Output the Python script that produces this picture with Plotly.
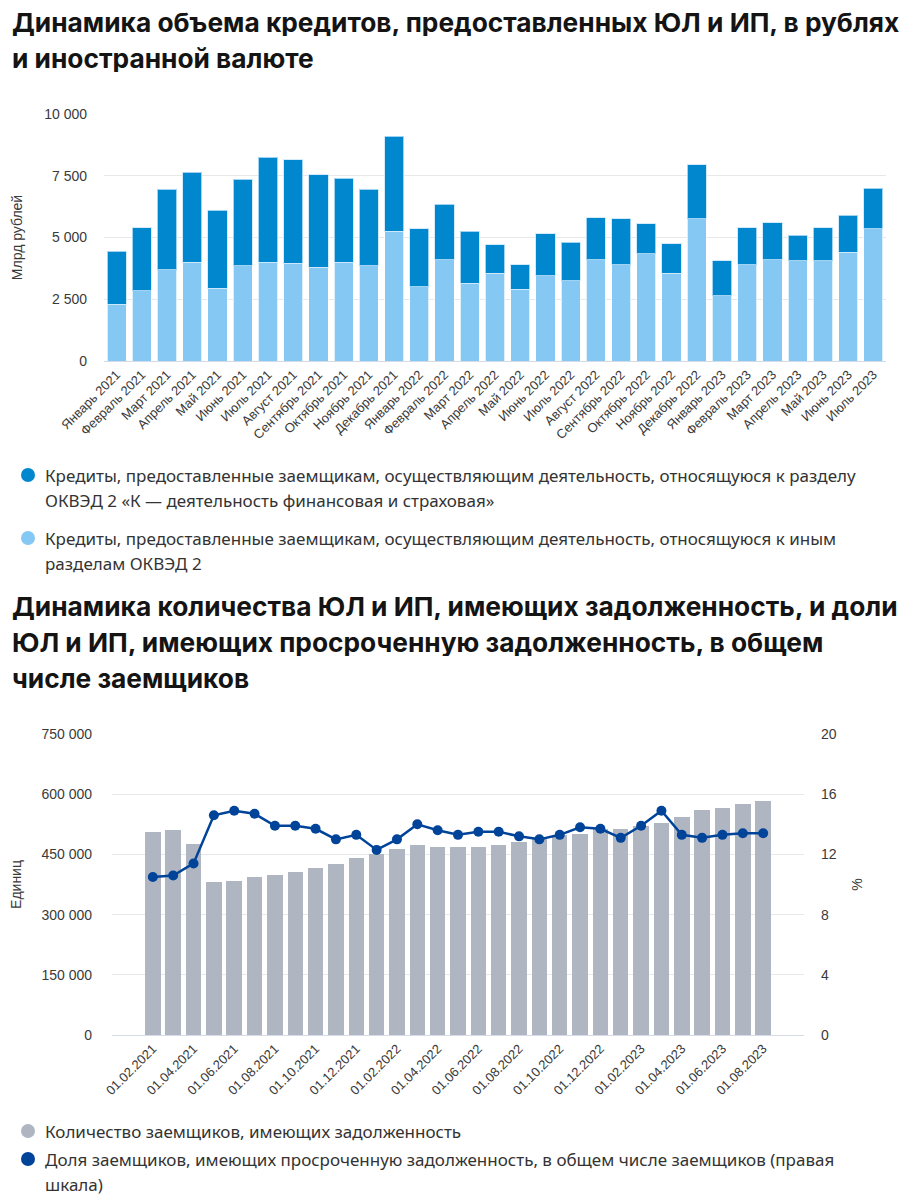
import plotly.graph_objects as go

# ---------- Data: chart 1 ----------
months1 = ["Январь 2021", "Февраль 2021", "Март 2021", "Апрель 2021", "Май 2021", "Июнь 2021",
           "Июль 2021", "Август 2021", "Сентябрь 2021", "Октябрь 2021", "Ноябрь 2021", "Декабрь 2021",
           "Январь 2022", "Февраль 2022", "Март 2022", "Апрель 2022", "Май 2022", "Июнь 2022",
           "Июль 2022", "Август 2022", "Сентябрь 2022", "Октябрь 2022", "Ноябрь 2022", "Декабрь 2022",
           "Январь 2023", "Февраль 2023", "Март 2023", "Апрель 2023", "Май 2023", "Июнь 2023", "Июль 2023"]
total1 = [4450, 5400, 6950, 7650, 6100, 7350, 8250, 8150, 7550, 7400, 6950, 9100,
          5350, 6350, 5250, 4700, 3900, 5150, 4800, 5800, 5750, 5550, 4750, 7950,
          4050, 5400, 5600, 5100, 5400, 5900, 7000]
other1 = [2300, 2850, 3700, 4000, 2950, 3850, 4000, 3950, 3800, 4000, 3850, 5250,
          3000, 4100, 3150, 3550, 2900, 3450, 3250, 4100, 3900, 4350, 3550, 5750,
          2650, 3900, 4100, 4050, 4050, 4400, 5350]
fin1 = [t - o for t, o in zip(total1, other1)]

# ---------- Data: chart 2 ----------
dates2 = ["01.02.2021", "01.03.2021", "01.04.2021", "01.05.2021", "01.06.2021", "01.07.2021",
          "01.08.2021", "01.09.2021", "01.10.2021", "01.11.2021", "01.12.2021", "01.01.2022",
          "01.02.2022", "01.03.2022", "01.04.2022", "01.05.2022", "01.06.2022", "01.07.2022",
          "01.08.2022", "01.09.2022", "01.10.2022", "01.11.2022", "01.12.2022", "01.01.2023",
          "01.02.2023", "01.03.2023", "01.04.2023", "01.05.2023", "01.06.2023", "01.07.2023",
          "01.08.2023"]
borrowers2 = [505000, 511000, 475000, 381000, 384000, 393000, 398000, 405000, 417000, 426000,
              441000, 450000, 463000, 474000, 468000, 468000, 468000, 474000, 480000, 489000,
              498000, 502000, 513000, 514000, 520000, 528000, 544000, 560000, 566000, 575000,
              584000]
overdue_share2 = [10.5, 10.6, 11.4, 14.6, 14.9, 14.7, 13.9, 13.9, 13.7, 13.0, 13.3, 12.3,
                  13.0, 14.0, 13.6, 13.3, 13.5, 13.5, 13.2, 13.0, 13.3, 13.8, 13.7, 13.1,
                  13.9, 14.9, 13.3, 13.1, 13.3, 13.4, 13.4]
date_ticks2 = dates2[::2]

y1_ticks = [0, 2500, 5000, 7500, 10000]
y2_ticks = [0, 150000, 300000, 450000, 600000, 750000]
y3_ticks = [0, 4, 8, 12, 16, 20]

# ---------- Styles ----------
C_FIN = "#0087CD"
C_OTH = "#85C8F4"
C_GRAY = "#B0B6C1"
C_LINE = "#00449A"
AX_FAMILY = "Liberation Sans, Arial, sans-serif"
TICK_FONT = dict(family=AX_FAMILY, size=14, color="#3a3a3a")
XTICK_FONT = dict(family=AX_FAMILY, size=13, color="#3a3a3a")
AXT_FONT = dict(family=AX_FAMILY, size=14, color="#3a3a3a")
TITLE_FONT = dict(family="Inter, sans-serif", size=26.3, color="#141414")
LEG_FONT = dict(family="Noto Sans, sans-serif", size=17, color="#333333")

# the page body adds an 8px offset; the figure is sized to fit the window
OFF = 8
W, H = 908 - OFF, 1200 - OFF

def px(xp):
    return (xp - OFF) / W

def py(yp):
    return 1 - (yp - OFF) / H

fig = go.Figure()

fig.add_trace(go.Bar(x=months1, y=other1, marker=dict(color=C_OTH, line=dict(color="rgba(255,255,255,0.7)", width=1)),
                     xaxis="x", yaxis="y", name="other", showlegend=False))
fig.add_trace(go.Bar(x=months1, y=fin1, marker=dict(color=C_FIN, line=dict(color="rgba(200,230,250,0.8)", width=1)),
                     xaxis="x", yaxis="y", name="fin", showlegend=False))

fig.add_trace(go.Bar(x=dates2, y=borrowers2, marker=dict(color=C_GRAY, line=dict(width=0)),
                     xaxis="x2", yaxis="y2", showlegend=False))
fig.add_trace(go.Scatter(x=dates2, y=overdue_share2, mode="lines+markers",
                         line=dict(color=C_LINE, width=2.5), marker=dict(color=C_LINE, size=10),
                         xaxis="x2", yaxis="y3", showlegend=False))

grid = "#E8E8EA"
base = "#D5DCE8"

fig.update_layout(
    width=W, height=H,
    margin=dict(l=0, r=0, t=0, b=0, autoexpand=False),
    paper_bgcolor="white", plot_bgcolor="white",
    barmode="stack", bargap=0.24,
    separators=", ",
    xaxis=dict(domain=[px(104), px(886)], type="category", tickangle=-45, tickfont=XTICK_FONT,
               showgrid=False, showline=True, linecolor=base, linewidth=1, ticks="", anchor="y",
               automargin=False),
    yaxis=dict(domain=[py(361), py(114)], range=[0, 10000], tickvals=y1_ticks, tickformat=",d",
               tickfont=TICK_FONT, gridcolor=grid, zeroline=False, anchor="x", ticklabelstandoff=16,
               automargin=False,
               title=dict(text="Млрд рублей", font=AXT_FONT, standoff=18)),
    xaxis2=dict(domain=[px(112), px(804)], type="category", tickangle=-45, tickvals=date_ticks2,
                tickfont=XTICK_FONT, automargin=False,
                showgrid=False, showline=True, linecolor=base, linewidth=1, ticks="", anchor="y2"),
    yaxis2=dict(domain=[py(1035), py(734)], range=[0, 750000], tickvals=y2_ticks, tickformat=",d",
                tickfont=TICK_FONT, gridcolor=grid, zeroline=False, anchor="x2", ticklabelstandoff=19,
                automargin=False,
                title=dict(text="Единиц", font=AXT_FONT, standoff=16)),
    yaxis3=dict(domain=[py(1035), py(734)], range=[0, 20], tickvals=y3_ticks, overlaying="y2", side="right",
                tickfont=TICK_FONT, showgrid=False, zeroline=False, anchor="x2", ticklabelstandoff=16,
                automargin=False,
                title=dict(text="%", font=AXT_FONT, standoff=16)),
)

annotations = []
def text_line(s, x, y, font, height=None):
    a = dict(text=s, x=px(x), y=py(y), xref="paper", yref="paper",
             xanchor="left", yanchor="middle", showarrow=False, font=font)
    if height:
        a["height"] = height
    annotations.append(a)

bold = dict(TITLE_FONT)
text_line("<b>Динамика объема кредитов, предоставленных ЮЛ и ИП, в рублях</b>", 10, 22, bold, 28)
text_line("<b>и иностранной валюте</b>", 10, 58, bold, 28)
text_line("<b>Динамика количества ЮЛ и ИП, имеющих задолженность, и доли</b>", 10, 606, bold, 28)
text_line("<b>ЮЛ и ИП, имеющих просроченную задолженность, в общем</b>", 10, 642, bold, 28)
text_line("<b>числе заемщиков</b>", 10, 678, bold, 28)

legend_items = [
    (C_FIN, 475, ["Кредиты, предоставленные заемщикам, осуществляющим деятельность, относящуюся к разделу",
                  "ОКВЭД 2 «К — деятельность финансовая и страховая»"]),
    (C_OTH, 538, ["Кредиты, предоставленные заемщикам, осуществляющим деятельность, относящуюся к иным",
                  "разделам ОКВЭД 2"]),
    (C_GRAY, 1131, ["Количество заемщиков, имеющих задолженность"]),
    (C_LINE, 1159, ["Доля заемщиков, имеющих просроченную задолженность, в общем числе заемщиков (правая",
                    "шкала)"]),
]
shapes = []
for color, y0, lines in legend_items:
    shapes.append(dict(type="circle", xref="paper", yref="paper",
                       x0=px(21), x1=px(35), y0=py(y0 + 7), y1=py(y0 - 7),
                       fillcolor=color, line=dict(width=0)))
    for i, ln in enumerate(lines):
        text_line(ln, 43, y0 + i * 25, LEG_FONT)

fig.update_layout(annotations=annotations, shapes=shapes)
fig.write_html("out.html")
